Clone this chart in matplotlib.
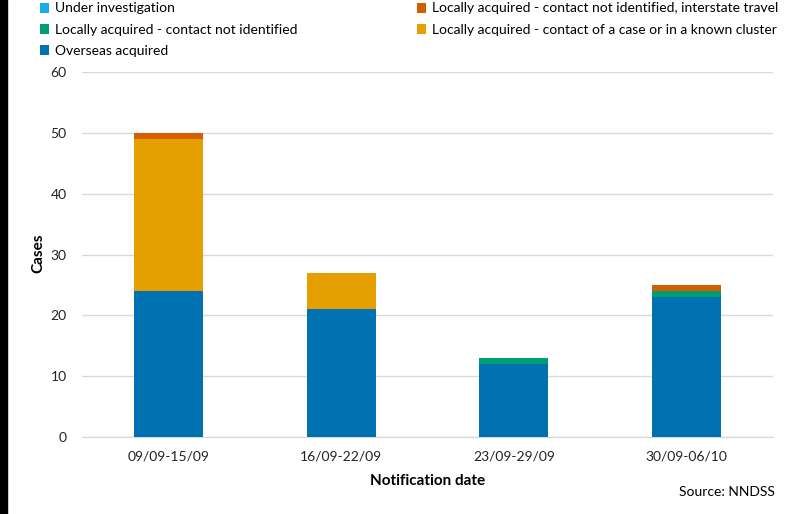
import numpy as np
import matplotlib.pyplot as plt
from matplotlib.patches import Rectangle

periods = ['09/09-15/09', '16/09-22/09', '23/09-29/09', '30/09-06/10']
overseas = [24, 21, 12, 23]
local_unknown = [0, 0, 1, 1]
local_contact = [25, 6, 0, 0]
local_interstate = [1, 0, 0, 1]
under_inv = [0, 0, 0, 0]

plt.rcParams['font.family'] = ['Lato', 'DejaVu Sans']

fig = plt.figure(figsize=(7.93, 5.14), dpi=100)
ax = fig.add_axes([82 / 793, 77 / 514, 691 / 793, 365 / 514])

x = np.arange(len(periods))
w = 0.4
kw = dict(width=w, edgecolor='none', zorder=3)
b = np.zeros(len(periods))
series = [
    ('Overseas acquired', overseas, '#0072B2'),
    ('Locally acquired - contact not identified', local_unknown, '#009E73'),
    ('Locally acquired - contact of a case or in a known cluster', local_contact, '#E69F00'),
    ('Locally acquired - contact not identified, interstate travel', local_interstate, '#D55E00'),
    ('Under investigation', under_inv, '#1AAEE8'),
]
handles = {}
for name, vals, col in series:
    handles[name] = ax.bar(x, vals, bottom=b, color=col, label=name, **kw)
    b += np.array(vals)

ax.set_xlim(-0.5, len(periods) - 0.5)
ax.set_ylim(0, 60)
ax.set_yticks(range(0, 61, 10))
ax.set_xticks(x)
ax.set_xticklabels(periods)
ax.grid(axis='y', color='#D9D9D9', lw=1, zorder=0)
for s in ['top', 'right', 'left']:
    ax.spines[s].set_visible(False)
ax.spines['bottom'].set_color('#D9D9D9')
ax.tick_params(length=0, labelsize=10, colors='#222222', pad=10)
ax.tick_params(axis='y', pad=11)
ax.set_xlabel('Notification date', fontsize=11, fontweight='bold', labelpad=8)
fig.text(38 / 793, 1 - 253 / 514, 'Cases', rotation=90, ha='center', va='center',
         fontsize=11, fontweight='bold')

order = ['Under investigation', 'Locally acquired - contact not identified', 'Overseas acquired',
         'Locally acquired - contact not identified, interstate travel',
         'Locally acquired - contact of a case or in a known cluster']
fig.legend([handles[k] for k in order], order, ncol=2, loc='upper left',
           bbox_to_anchor=(27 / 793, 1 + 10 / 514), frameon=False, fontsize=10,
           handlelength=0.7, handleheight=0.7, handletextpad=0.4,
           labelspacing=0.66, columnspacing=8.6)

fig.text(775 / 793, 1 - 492 / 514, 'Source: NNDSS', ha='right', va='center', fontsize=10)
fig.patches.append(Rectangle((0, 0), 7 / 793, 1, transform=fig.transFigure,
                             color='black', zorder=10))

plt.savefig('out.png', dpi=100)
